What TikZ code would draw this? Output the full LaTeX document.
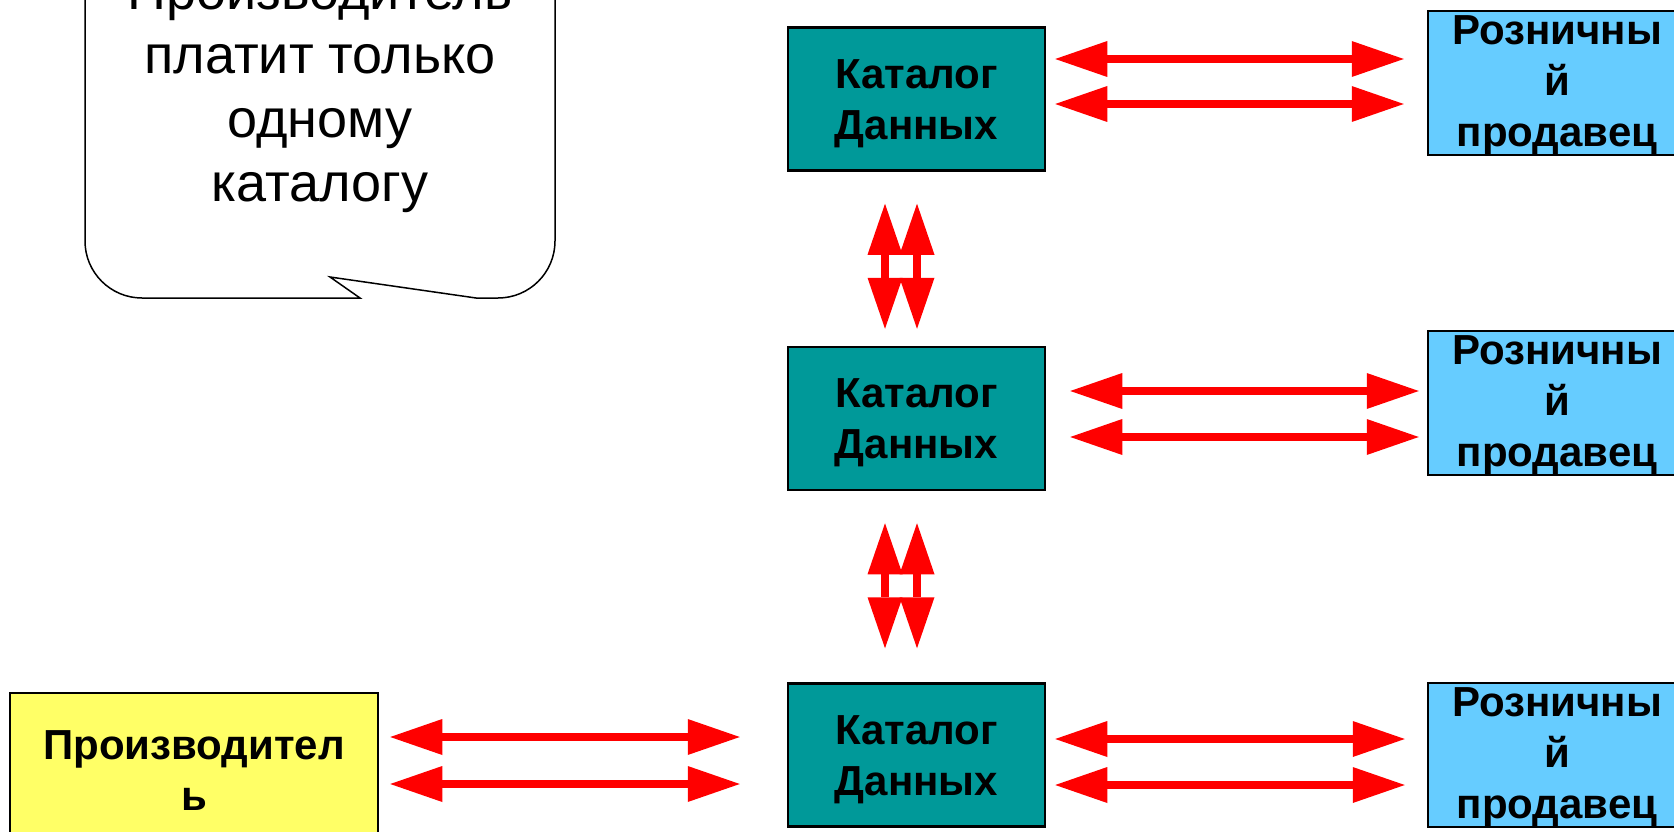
\documentclass[tikz,border=0pt]{standalone}
\usepackage{fontspec}
\setmainfont{Liberation Sans}
\usetikzlibrary{arrows.meta,calc}
\definecolor{catteal}{HTML}{009999}
\definecolor{retblue}{HTML}{66CCFF}
\definecolor{prodyellow}{HTML}{FFFF66}
\definecolor{arrred}{HTML}{FF0000}
\newcommand{\raiseup}[1]{\rule{0pt}{#1}}
\begin{document}
\begin{tikzpicture}[x=1pt,y=-1pt,
  box/.style={draw=black,line width=2.5pt,align=center,inner sep=0pt,
    font=\fontsize{42}{51}\selectfont\bfseries},
  catbox/.style={box,fill=catteal,minimum width=257pt,minimum height=143pt},
  retbox/.style={box,fill=retblue,minimum width=258pt,minimum height=144pt},
  prodbox/.style={box,fill=prodyellow,minimum width=368pt,minimum height=146pt},
  dblh/.style={draw=arrred,line width=8pt,
    {Triangle[length=52pt,width=36pt,line width=0pt]}-{Triangle[length=52pt,width=36pt,line width=0pt]}},
  dblv/.style={draw=arrred,line width=8pt,
    {Triangle[length=51pt,width=35pt,line width=0pt]}-{Triangle[length=51pt,width=35pt,line width=0pt]}},
  calloutline/.style={draw=black,line width=1.5pt,fill=white}
]
\useasboundingbox (0,0) rectangle (1674,832);
\clip (0,0) rectangle (1674,832);
\fill[white] (0,0) rectangle (1674,832);

% callout
\path[calloutline] (85,-200) -- (85,241)
  .. controls (85,272.5) and (110.5,298) .. (142,298)
  -- (360,298) -- (330,277) -- (476,298) -- (498,298)
  .. controls (529.5,298) and (555,272.5) .. (555,241)
  -- (555,-200) -- cycle;
\node[font=\fontsize{54}{64}\selectfont,align=center,inner sep=0pt] (note) at (320,93)
  {Производитель\\платит только\\одному\\каталогу};

% boxes
\node[catbox] (cat1) at (916.5,99) {\raiseup{38pt}Каталог\\Данных};
\node[catbox] (cat2) at (916.5,418.5) {\raiseup{38pt}Каталог\\Данных};
\node[catbox] (cat3) at (916.5,755) {\raiseup{38pt}Каталог\\Данных};
\node[retbox] (ret1) at (1557,83) {\raiseup{33pt}Розничны\\й\\продавец};
\node[retbox] (ret2) at (1557,403) {\raiseup{33pt}Розничны\\й\\продавец};
\node[retbox] (ret3) at (1557,755) {\raiseup{33pt}Розничны\\й\\продавец};
\node[prodbox] (prod) at (194,766) {\raiseup{37pt}Производител\\ь};

% horizontal arrows
\draw[dblh] ($(cat1.east |- 0,59)+(9,0)$) -- ($(ret1.west |- 0,59)+(-23,0)$);
\draw[dblh] ($(cat1.east |- 0,104)+(9,0)$) -- ($(ret1.west |- 0,104)+(-23,0)$);
\draw[dblh] ($(cat2.east |- 0,391)+(24,0)$) -- ($(ret2.west |- 0,391)+(-8,0)$);
\draw[dblh] ($(cat2.east |- 0,437)+(24,0)$) -- ($(ret2.west |- 0,437)+(-8,0)$);
\draw[dblh] ($(cat3.east |- 0,739)+(9,0)$) -- ($(ret3.west |- 0,739)+(-22,0)$);
\draw[dblh] ($(cat3.east |- 0,785)+(9,0)$) -- ($(ret3.west |- 0,785)+(-22,0)$);
\draw[dblh] ($(prod.east |- 0,737)+(11,0)$) -- ($(cat3.west |- 0,737)+(-47,0)$);
\draw[dblh] ($(prod.east |- 0,784)+(11,0)$) -- ($(cat3.west |- 0,784)+(-47,0)$);

% vertical arrows
\draw[dblv] ($(cat1.south -| 885,0)+(0,32)$) -- ($(cat2.north -| 885,0)+(0,-17)$);
\draw[dblv] ($(cat1.south -| 917,0)+(0,32)$) -- ($(cat2.north -| 917,0)+(0,-17)$);
\draw[dblv] ($(cat2.south -| 885,0)+(0,32)$) -- ($(cat3.north -| 885,0)+(0,-34)$);
\draw[dblv] ($(cat2.south -| 917,0)+(0,32)$) -- ($(cat3.north -| 917,0)+(0,-34)$);
\end{tikzpicture}
\end{document}
